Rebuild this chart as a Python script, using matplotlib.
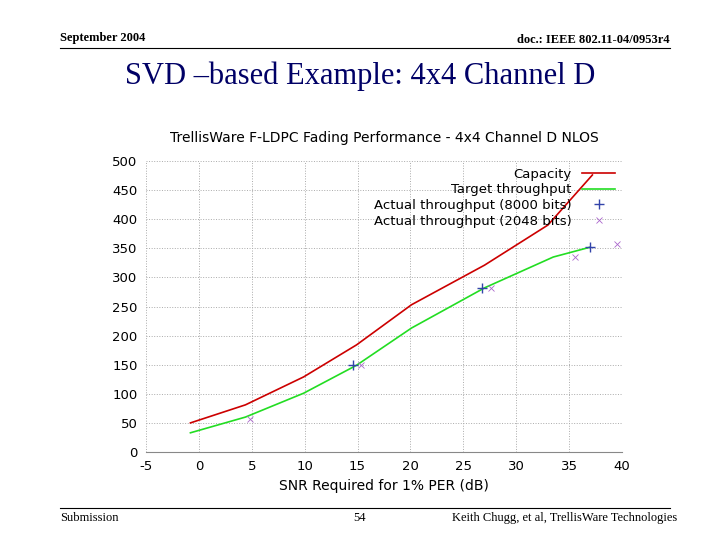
import matplotlib
matplotlib.use("Agg")
import matplotlib.pyplot as plt
plt.rcParams["axes.unicode_minus"] = False

cap_x = [-0.8, 4.4, 9.9, 14.9, 20.1, 27.0, 33.0, 37.2]
cap_y = [50, 81, 129, 184, 253, 321, 390, 476]
tgt_x = [-0.8, 4.4, 9.9, 14.9, 20.1, 27.0, 33.5, 37.0]
tgt_y = [33, 60, 101, 149, 213, 282, 335, 352]
a8000_x = [14.6, 26.8, 37.0]
a8000_y = [150, 281, 352]
a2048_x = [4.8, 15.3, 27.6, 35.6, 39.5]
a2048_y = [57, 150, 281, 335, 358]

fig = plt.figure(figsize=(7.2, 5.4), dpi=100)
fig.text(0.083, 0.925, "September 2004", fontsize=9, fontweight="bold", family="Liberation Serif")
fig.text(0.93, 0.92, "doc.: IEEE 802.11-04/0953r4", fontsize=9, fontweight="bold", family="Liberation Serif", ha="right")
fig.add_artist(plt.Line2D([0.083, 0.93], [0.912, 0.912], color="black", lw=0.8))
fig.text(0.5, 0.845, "SVD –based Example: 4x4 Channel D", fontsize=22, family="Liberation Serif", ha="center", color="#000066")
fig.add_artist(plt.Line2D([0.083, 0.93], [0.06, 0.06], color="black", lw=0.8))
fig.text(0.083, 0.035, "Submission", fontsize=9, family="Liberation Serif")
fig.text(0.5, 0.035, "54", fontsize=9, family="Liberation Serif", ha="center")
fig.text(0.94, 0.035, "Keith Chugg, et al, TrellisWare Technologies", fontsize=9, family="Liberation Serif", ha="right")

ax = fig.add_axes([146/720, 1-452/540, 476/720, 291/540])
ax.plot(cap_x, cap_y, color="#cc0000", lw=1.2, label="Capacity")
ax.plot(tgt_x, tgt_y, color="#22dd22", lw=1.2, label="Target throughput")
ax.plot(a8000_x, a8000_y, ls="none", marker="+", color="#3344aa", ms=7, label="Actual throughput (8000 bits)")
ax.plot(a2048_x, a2048_y, ls="none", marker="x", color="#aa66cc", ms=5, mew=0.6, label="Actual throughput (2048 bits)")
ax.set_xlim(-5, 40)
ax.set_ylim(0, 500)
ax.set_xticks(range(-5, 41, 5))
ax.set_yticks(range(0, 501, 50))
ax.grid(True, ls=":", color="#aaaaaa", lw=0.7)
for s in ["top", "right", "left"]:
    ax.spines[s].set_visible(False)
ax.spines["bottom"].set_color("#888888")
ax.tick_params(length=0, labelsize=9.5)
ax.tick_params(axis="x", pad=6)
ax.tick_params(axis="y", pad=6)
ax.set_xlabel("SNR Required for 1% PER (dB)", fontsize=10)
ax.set_title("TrellisWare F-LDPC Fading Performance - 4x4 Channel D NLOS", fontsize=10, pad=14)
ax.legend(loc="upper right", frameon=False, fontsize=9.5, markerfirst=False,
          handlelength=2.5, borderaxespad=0.1, labelspacing=0.2)
fig.savefig("out.png", dpi=100)
